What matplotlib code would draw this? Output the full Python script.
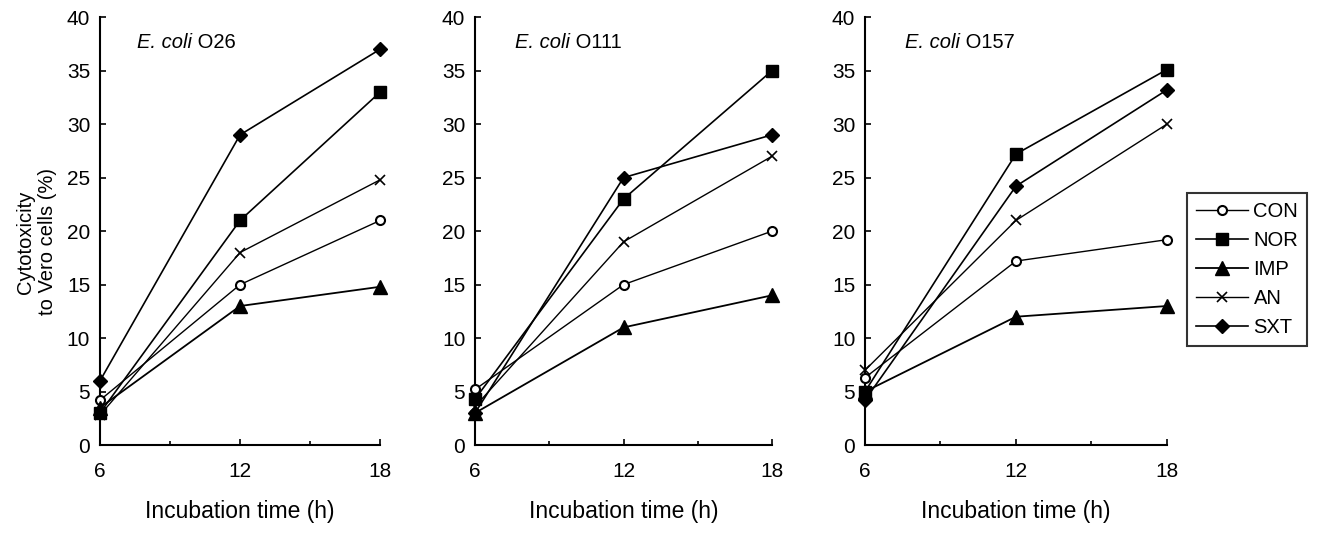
import matplotlib
matplotlib.use("Agg")
import matplotlib.pyplot as plt
from matplotlib.lines import Line2D

plt.rcParams['font.family'] = ['Liberation Sans', 'DejaVu Sans']

times = [6, 12, 18]
series_names = ["CON", "NOR", "IMP", "AN", "SXT"]
panel_titles = ["O26", "O111", "O157"]

o26_con = [4.2, 15, 21]
o26_nor = [3.0, 21, 33]
o26_imp = [3.5, 13, 14.8]
o26_an = [2.8, 18, 24.8]
o26_sxt = [6.0, 29, 37]

o111_con = [5.2, 15, 20]
o111_nor = [4.3, 23, 35]
o111_imp = [3.0, 11, 14]
o111_an = [3.6, 19, 27]
o111_sxt = [3.0, 25, 29]

o157_con = [6.3, 17.2, 19.2]
o157_nor = [5.0, 27.2, 35.1]
o157_imp = [5.0, 12, 13]
o157_an = [7.0, 21, 30]
o157_sxt = [4.2, 24.2, 33.2]

panels = [
    [o26_con, o26_nor, o26_imp, o26_an, o26_sxt],
    [o111_con, o111_nor, o111_imp, o111_an, o111_sxt],
    [o157_con, o157_nor, o157_imp, o157_an, o157_sxt],
]

styles = {
    "CON": dict(marker='o', markersize=6.5, markerfacecolor='white', markeredgewidth=1.5, linewidth=1.0),
    "NOR": dict(marker='s', markersize=8.5, markerfacecolor='black', linewidth=1.2),
    "IMP": dict(marker='^', markersize=9.5, markerfacecolor='black', linewidth=1.3),
    "AN": dict(marker='x', markersize=7, markeredgewidth=1.2, linewidth=1.0),
    "SXT": dict(marker='D', markersize=7.5, markerfacecolor='black', linewidth=1.2),
}

fig = plt.figure(figsize=(13.22, 5.35), dpi=100)
rects = [
    [0.0756, 0.168, 0.212, 0.80],
    [0.3593, 0.168, 0.2247, 0.80],
    [0.6543, 0.168, 0.2284, 0.80],
]

for rect, data, title in zip(rects, panels, panel_titles):
    ax = fig.add_axes(rect)
    for name, vals in zip(series_names, data):
        ax.plot(times, vals, color='black', markeredgecolor='black',
                clip_on=False, zorder=3, **styles[name])
    ax.set_xlim(6, 18)
    ax.set_ylim(0, 40)
    ax.set_xticks([6, 12, 18])
    ax.set_xticks([9, 15], minor=True)
    ax.set_yticks(range(0, 41, 5))
    ax.spines['top'].set_visible(False)
    ax.spines['right'].set_visible(False)
    ax.spines['left'].set_linewidth(1.5)
    ax.spines['bottom'].set_linewidth(1.5)
    ax.tick_params(axis='both', which='both', direction='in', labelsize=15, width=1.2)
    ax.tick_params(axis='both', which='major', length=4)
    ax.tick_params(axis='x', which='minor', length=3)
    ax.tick_params(axis='x', pad=12)
    ax.tick_params(axis='y', pad=7)
    ax.set_xlabel("Incubation time (h)", fontsize=16.5, labelpad=14)
    t1 = ax.text(7.6, 37.6, "E. coli", fontsize=14.5, fontstyle='italic', va='center', ha='left')
    ax.annotate(" " + title, xy=(1, 0.5), xycoords=t1, fontsize=14.5, va='center', ha='left')

ax0 = fig.axes[0]
ax0.set_ylabel("Cytotoxicity\nto Vero cells (%)", fontsize=14.5, linespacing=1.2)
ax0.yaxis.set_label_coords(-0.155, 0.475)

handles = [Line2D([0], [0], color='black', markeredgecolor='black', **styles[n]) for n in series_names]
fig.legend(handles, series_names, loc='upper left', bbox_to_anchor=(1187 / 1322, 1 - 193 / 535),
           frameon=True, fancybox=False, edgecolor='black', fontsize=14.5,
           handlelength=2.6, handletextpad=0.25, labelspacing=0.5, borderpad=0.45,
           borderaxespad=0)
fig.legends[0].get_frame().set_linewidth(1.5)

fig.savefig("out.png", dpi=100)
